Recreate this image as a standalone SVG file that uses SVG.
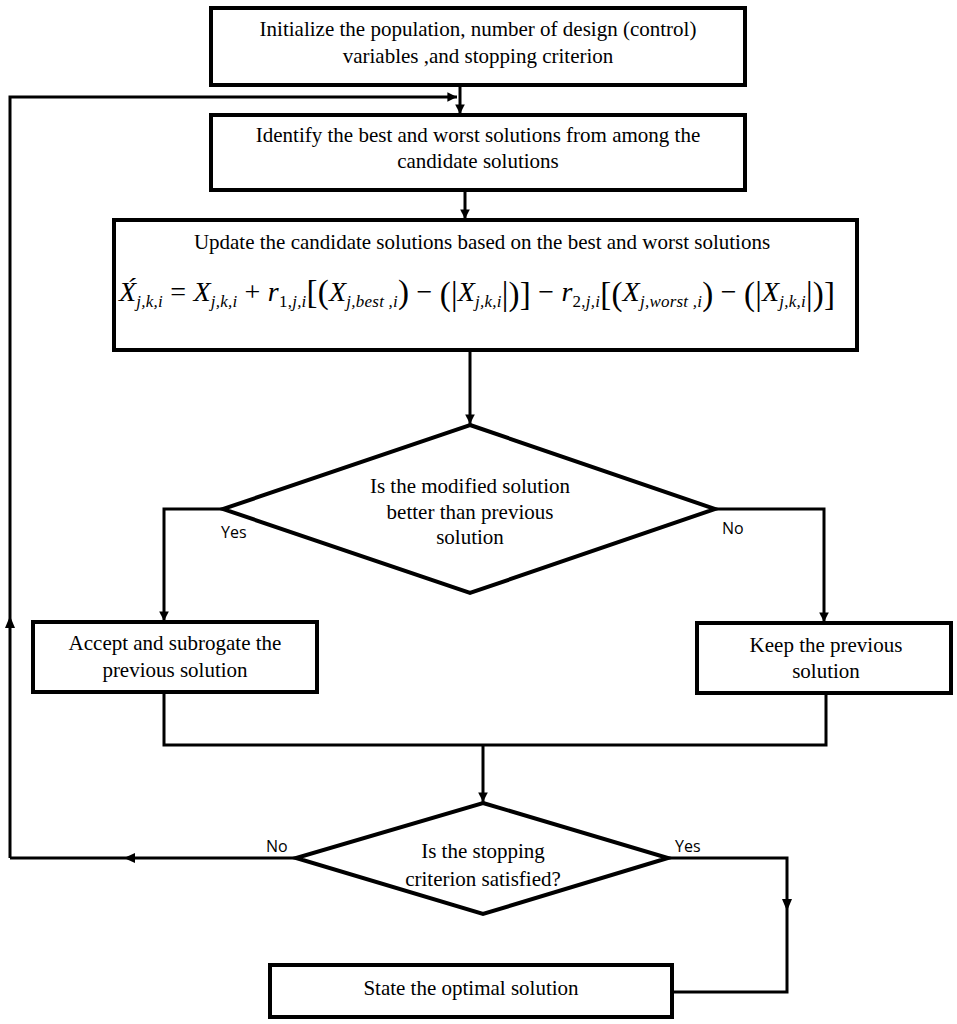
<svg xmlns="http://www.w3.org/2000/svg" width="957" height="1024" viewBox="0 0 957 1024">
<style>
.box{fill:#fff;stroke:#000;stroke-width:4}
.t{font-family:"Liberation Serif","Times New Roman",serif;font-size:21px;fill:#000;text-anchor:middle}
.lbl{font-family:"Open Sans","Liberation Sans",sans-serif;font-size:16px;fill:#000}
.ln{fill:none;stroke:#000;stroke-width:3}
.m{font-family:"Liberation Serif","Times New Roman",serif;font-style:italic;font-size:28px;fill:#000}
.s{font-size:17px}
.n{font-style:normal}
.b{font-style:normal;font-size:33px}
</style>
<defs>
<marker id="ah" viewBox="0 0 10 10" refX="10" refY="5" markerWidth="3.6" markerHeight="3.2" orient="auto" markerUnits="strokeWidth">
<path d="M0,0 L10,5 L0,10 z" fill="#000"/>
</marker>
</defs>
<g id="connectors">
<line class="ln" x1="460" y1="85" x2="460" y2="114" marker-end="url(#ah)"/>
<polyline class="ln" points="10,858 10,97 457,97" marker-end="url(#ah)"/>
<line class="ln" x1="465" y1="190" x2="465" y2="219" marker-end="url(#ah)"/>
<line class="ln" x1="470" y1="350" x2="470" y2="424" marker-end="url(#ah)"/>
<polyline class="ln" points="223,509 164,509 164,621" marker-end="url(#ah)"/>
<polyline class="ln" points="715,509 824,509 824,622" marker-end="url(#ah)"/>
<polyline class="ln" points="164,692 164,745 826,745 826,693"/>
<line class="ln" x1="483" y1="745" x2="483" y2="802" marker-end="url(#ah)"/>
<line class="ln" x1="296" y1="858" x2="10" y2="858"/>
<path d="M135,853 L135,863 L124,858 z" fill="#000"/>
<path d="M5,628 L15,628 L10,616 z" fill="#000"/>
<polyline class="ln" points="668,858 787,858 787,992 672,992"/>
<path d="M782,899 L792,899 L787,911 z" fill="#000"/>
</g>
<g id="n1">
<rect class="box" x="211" y="8" width="534" height="77"/>
<text class="t" x="478" y="36">Initialize the population, number of design (control)</text>
<text class="t" x="478" y="63">variables ,and stopping criterion</text>
</g>
<g id="n2">
<rect class="box" x="211" y="115" width="534" height="75"/>
<text class="t" x="478" y="142">Identify the best and worst solutions from among the</text>
<text class="t" x="478" y="168">candidate solutions</text>
</g>
<g id="n3">
<rect class="box" x="114" y="220" width="743" height="130"/>
<text class="t" x="482" y="249">Update the candidate solutions based on the best and worst solutions</text>
<text class="m" x="119" y="301" textLength="716" lengthAdjust="spacing">X́<tspan class="s" dy="6">j,k,i</tspan><tspan class="n" dy="-6"> = </tspan>X<tspan class="s" dy="6">j,k,i</tspan><tspan class="n" dy="-6"> + </tspan>r<tspan class="s n" dy="6">1,</tspan><tspan class="s">j,i</tspan><tspan class="b" dy="-4">[(</tspan><tspan dy="-2">X</tspan><tspan class="s" dy="6">j,best ,i</tspan><tspan class="b" dy="-4">)</tspan><tspan class="n" dy="-2"> − </tspan><tspan class="b" dy="4">(|</tspan><tspan dy="-4">X</tspan><tspan class="s" dy="6">j,k,i</tspan><tspan class="b" dy="-2">|)]</tspan><tspan class="n" dy="-4"> − </tspan>r<tspan class="s n" dy="6">2,</tspan><tspan class="s">j,i</tspan><tspan class="b" dy="-2">[(</tspan><tspan dy="-4">X</tspan><tspan class="s" dy="6">j,worst ,i</tspan><tspan class="b" dy="-2">)</tspan><tspan class="n" dy="-4"> − </tspan><tspan class="b" dy="4">(|</tspan><tspan dy="-4">X</tspan><tspan class="s" dy="6">j,k,i</tspan><tspan class="b" dy="-2">|)]</tspan></text>
</g>
<g id="d1">
<polygon class="box" points="470,425 715,509 470,593 223,509"/>
<text class="t" x="470" y="493">Is the modified solution</text>
<text class="t" x="470" y="519">better than previous</text>
<text class="t" x="470" y="544">solution</text>
</g>
<g id="n4">
<rect class="box" x="33" y="622" width="284" height="70"/>
<text class="t" x="175" y="650">Accept and subrogate the</text>
<text class="t" x="175" y="677">previous solution</text>
</g>
<g id="n5">
<rect class="box" x="697" y="623" width="254" height="70"/>
<text class="t" x="826" y="652">Keep the previous</text>
<text class="t" x="826" y="678">solution</text>
</g>
<g id="d2">
<polygon class="box" points="483,803 668,858 483,914 296,858"/>
<text class="t" x="483" y="858">Is the stopping</text>
<text class="t" x="483" y="886">criterion satisfied?</text>
</g>
<g id="n6">
<rect class="box" x="270" y="965" width="402" height="52"/>
<text class="t" x="471" y="995">State the optimal solution</text>
</g>
<g id="labels">
<text class="lbl" x="221" y="538">Yes</text>
<text class="lbl" x="722" y="534">No</text>
<text class="lbl" x="266" y="852">No</text>
<text class="lbl" x="675" y="852">Yes</text>
</g>
</svg>
